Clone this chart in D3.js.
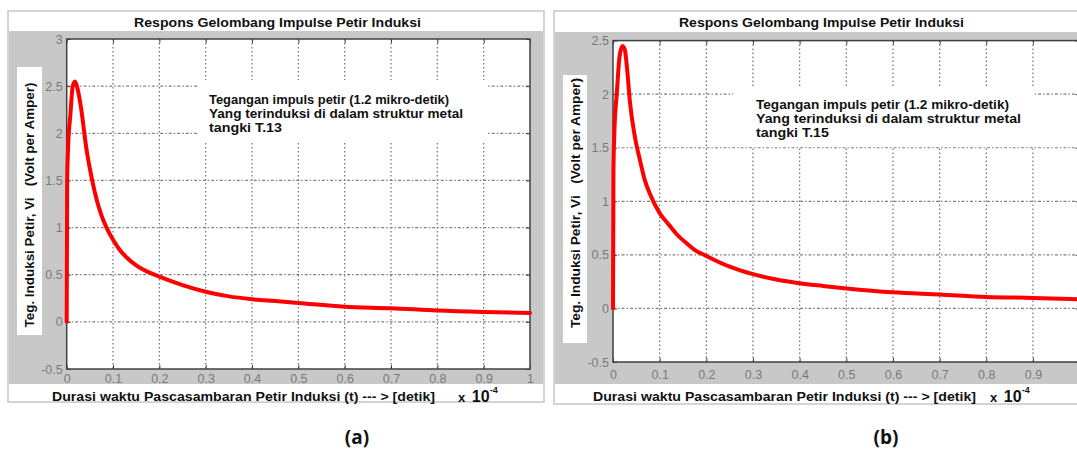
<!DOCTYPE html>
<html>
<head>
<meta charset="utf-8">
<script src="https://cdn.jsdelivr.net/npm/d3@7"></script>
<style>
  html, body { margin: 0; padding: 0; background: #ffffff; }
  svg { display: block; }
</style>
</head>
<body>
<svg id="chart" width="1077" height="450"></svg>
<script>
// ---------------- DATA ----------------
const xTicks = [0, 0.1, 0.2, 0.3, 0.4, 0.5, 0.6, 0.7, 0.8, 0.9, 1];
const yTicksA = [-0.5, 0, 0.5, 1, 1.5, 2, 2.5, 3];
const yTicksB = [-0.5, 0, 0.5, 1, 1.5, 2, 2.5];

// time in units of 1e-4 s, voltage in V/A
const timeA = [0, 0.001, 0.003, 0.008, 0.013, 0.018, 0.023, 0.03, 0.043, 0.055, 0.065, 0.075, 0.086, 0.1, 0.115, 0.13, 0.15, 0.175, 0.2, 0.25, 0.3, 0.35, 0.4, 0.45, 0.5, 0.6, 0.7, 0.8, 0.9, 1.0];
const voltA = [0, 1.5, 1.85, 2.2, 2.5, 2.55, 2.48, 2.3, 1.82, 1.5, 1.29, 1.13, 1.0, 0.87, 0.76, 0.68, 0.6, 0.53, 0.48, 0.39, 0.32, 0.27, 0.24, 0.22, 0.2, 0.16, 0.145, 0.12, 0.105, 0.095];

const timeB = [0, 0.001, 0.003, 0.008, 0.014, 0.02, 0.025, 0.031, 0.036, 0.047, 0.058, 0.068, 0.079, 0.1, 0.12, 0.137, 0.16, 0.174, 0.2, 0.25, 0.3, 0.35, 0.4, 0.45, 0.5, 0.6, 0.7, 0.8, 0.9, 1.0];
const voltB = [0, 1.3, 1.65, 2.0, 2.35, 2.45, 2.42, 2.2, 1.94, 1.6, 1.38, 1.2, 1.07, 0.89, 0.78, 0.69, 0.6, 0.55, 0.49, 0.39, 0.32, 0.27, 0.235, 0.21, 0.187, 0.15, 0.13, 0.107, 0.098, 0.085];

const titleText = "Respons Gelombang Impulse Petir Induksi";
const xLabelText = "Durasi waktu Pascasambaran Petir Induksi (t) --- > [detik]";
const yLabelText = "Teg. Induksi Petir, Vi   (Volt per Amper)";
const annotA = ["Tegangan impuls petir (1.2 mikro-detik)", "Yang terinduksi di dalam struktur metal", "tangki T.13"];
const annotB = ["Tegangan impuls petir (1.2 mikro-detik)", "Yang terinduksi di dalam struktur metal", "tangki T.15"];
const panelLabels = ["(a)", "(b)"];

// ---------------- LAYOUT ----------------
const FONT = "'Liberation Sans', Arial, sans-serif";
const GRAY = "#c8c8c8";
const W = 1077;

const panels = [
  {
    time: timeA, volt: voltA, yTicks: yTicksA, yDomain: [-0.5, 3], annot: annotA, label: panelLabels[0],
    frame: {x: 7, y: 10, w: 538, h: 393},
    gray: {x: 8, y: 31, w: 537, h: 353},
    plot: {x0: 66.7, x1: 530, y0: 39, y1: 369},
    ylabBox: {x: 17, y: 67, w: 25, h: 268}, ylabC: [29.5, 205], ylabLen: 245,
    title: {cx: 277.5, y: 27, len: 287},
    annotPos: {x: 209, y: [104, 118, 132], len: [240, 254, 73]},
    whiteBox: {x: 198, y: 80, w: 289, h: 62},
    xlab: {x: 52, y: 401, len: 383},
    exp: {x: 458, y: 402},
    plab: {cx: 357, cy: 437},
    xPad: 5
  },
  {
    time: timeB, volt: voltB, yTicks: yTicksB, yDomain: [-0.5, 2.5], annot: annotB, label: panelLabels[1],
    frame: {x: 553, y: 10, w: 540, h: 395},
    gray: {x: 554, y: 32, w: 530, h: 352},
    plot: {x0: 613, x1: 1079.6, y0: 40.6, y1: 362},
    ylabBox: {x: 563, y: 75, w: 24, h: 268}, ylabC: [575, 203], ylabLen: 250,
    title: {cx: 821.5, y: 27, len: 285},
    annotPos: {x: 756, y: [108.5, 122.5, 137], len: [253, 265, 73]},
    whiteBox: {x: 733, y: 86, w: 302, h: 61},
    xlab: {x: 593, y: 401, len: 383},
    exp: {x: 990, y: 402},
    plab: {cx: 886, cy: 437},
    xPad: 8
  }
];

const svg = d3.select("#chart");
svg.append("rect").attr("width", W).attr("height", 450).attr("fill", "#fff");

panels.forEach(p => {
  const g = svg.append("g");

  // figure background
  g.append("rect").attr("x", p.gray.x).attr("y", p.gray.y).attr("width", p.gray.w).attr("height", p.gray.h).attr("fill", GRAY);
  g.append("rect").attr("x", p.frame.x + 1).attr("y", p.frame.y + 1).attr("width", p.frame.w - 2).attr("height", p.frame.h - 2)
    .attr("fill", "none").attr("stroke", "#d4d4d4").attr("stroke-width", 2);

  // title
  g.append("text").attr("x", p.title.cx).attr("y", p.title.y).attr("text-anchor", "middle")
    .attr("font-family", FONT).attr("font-size", 12).attr("font-weight", "bold").attr("fill", "#111")
    .attr("textLength", p.title.len).attr("lengthAdjust", "spacingAndGlyphs").text(titleText);

  const x = d3.scaleLinear().domain([0, 1]).range([p.plot.x0, p.plot.x1]);
  const y = d3.scaleLinear().domain(p.yDomain).range([p.plot.y1, p.plot.y0]);

  // plot area
  g.append("rect").attr("x", p.plot.x0).attr("y", p.plot.y0)
    .attr("width", p.plot.x1 - p.plot.x0).attr("height", p.plot.y1 - p.plot.y0).attr("fill", "#fff");

  // grid
  const gridV = xTicks.filter(t => t > 0 && t < 1);
  const gridH = p.yTicks.filter(t => t > p.yDomain[0] && t < p.yDomain[1]);
  g.append("g").selectAll("line").data(gridV).join("line")
    .attr("x1", d => x(d)).attr("x2", d => x(d)).attr("y1", p.plot.y0).attr("y2", p.plot.y1)
    .attr("stroke", "#707070").attr("stroke-width", 1.2).attr("stroke-dasharray", "1.5,2.5");
  g.append("g").selectAll("line").data(gridH).join("line")
    .attr("x1", p.plot.x0).attr("x2", p.plot.x1).attr("y1", d => y(d)).attr("y2", d => y(d))
    .attr("stroke", "#808080").attr("stroke-width", 1.2).attr("stroke-dasharray", "3,2,1.5,2");

  // annotation white box
  g.append("rect").attr("x", p.whiteBox.x).attr("y", p.whiteBox.y).attr("width", p.whiteBox.w).attr("height", p.whiteBox.h).attr("fill", "#fff");

  // axes (labels that would fall outside the picture are left blank, as in the cropped reference)
  const axB = d3.axisBottom(x).tickValues(xTicks).tickSize(-4).tickPadding(p.xPad)
    .tickFormat(d => (x(d) > W - 6 ? "" : String(d)));
  const axL = d3.axisLeft(y).tickValues(p.yTicks).tickSize(-4).tickPadding(4).tickFormat(d => String(d));
  const axT = d3.axisTop(x).tickValues(xTicks).tickSize(-4).tickFormat("");
  const axR = d3.axisRight(y).tickValues(p.yTicks).tickSize(-4).tickFormat("");

  const styleAxis = sel => {
    sel.select(".domain").remove();
    sel.selectAll(".tick line").attr("stroke", "#404040");
    sel.selectAll("text").attr("font-family", FONT).attr("font-size", 12.5).attr("fill", "#7a7a7a");
  };
  g.append("g").attr("transform", `translate(0,${p.plot.y1})`).call(axB).call(styleAxis);
  g.append("g").attr("transform", `translate(${p.plot.x0},0)`).call(axL).call(styleAxis);
  g.append("g").attr("transform", `translate(0,${p.plot.y0})`).call(axT).call(styleAxis);
  g.append("g").attr("transform", `translate(${p.plot.x1},0)`).call(axR).call(styleAxis);

  // plot box
  g.append("rect").attr("x", p.plot.x0).attr("y", p.plot.y0)
    .attr("width", p.plot.x1 - p.plot.x0).attr("height", p.plot.y1 - p.plot.y0)
    .attr("fill", "none").attr("stroke", "#404040").attr("stroke-width", 1.5);

  // curve
  const pts = p.time.map((t, i) => [t, p.volt[i]]);
  const line = d3.line().x(d => x(d[0])).y(d => y(d[1])).curve(d3.curveMonotoneX);
  g.append("path").datum(pts).attr("d", line).attr("fill", "none")
    .attr("stroke", "#ff0000").attr("stroke-width", 4).attr("stroke-linejoin", "round").attr("stroke-linecap", "round");

  // annotation text
  p.annot.forEach((s, i) => {
    g.append("text").attr("x", p.annotPos.x).attr("y", p.annotPos.y[i])
      .attr("font-family", FONT).attr("font-size", 12).attr("font-weight", "bold").attr("fill", "#111")
      .attr("textLength", p.annotPos.len[i]).attr("lengthAdjust", "spacingAndGlyphs").text(s);
  });

  // y label box + text
  g.append("rect").attr("x", p.ylabBox.x).attr("y", p.ylabBox.y).attr("width", p.ylabBox.w).attr("height", p.ylabBox.h).attr("fill", "#fff");
  g.append("text").attr("transform", `translate(${p.ylabC[0] + 4.5},${p.ylabC[1]}) rotate(-90)`)
    .attr("text-anchor", "middle").attr("font-family", FONT).attr("font-size", 12).attr("font-weight", "bold").attr("fill", "#111")
    .attr("textLength", p.ylabLen).attr("lengthAdjust", "spacingAndGlyphs").style("white-space", "pre").text(yLabelText);

  // x label
  g.append("text").attr("x", p.xlab.x).attr("y", p.xlab.y)
    .attr("font-family", FONT).attr("font-size", 12).attr("font-weight", "bold").attr("fill", "#111")
    .attr("textLength", p.xlab.len).attr("lengthAdjust", "spacingAndGlyphs").text(xLabelText);

  // x 10^-4
  const ex = g.append("text").attr("x", p.exp.x).attr("y", p.exp.y)
    .attr("font-family", FONT).attr("font-weight", "bold").attr("fill", "#111");
  ex.append("tspan").attr("font-size", 13).text("x ");
  ex.append("tspan").attr("font-size", 16).attr("dx", 3).text("10");
  ex.append("tspan").attr("font-size", 9).attr("dy", -9).text("-4");

  // panel label
  g.append("text").attr("x", p.plab.cx).attr("y", p.plab.cy + 7).attr("text-anchor", "middle")
    .attr("font-family", "'Open Sans', 'Noto Sans', sans-serif").attr("font-size", 19).attr("font-weight", "bold").attr("fill", "#111")
    .text(p.label);
});
</script>
</body>
</html>
